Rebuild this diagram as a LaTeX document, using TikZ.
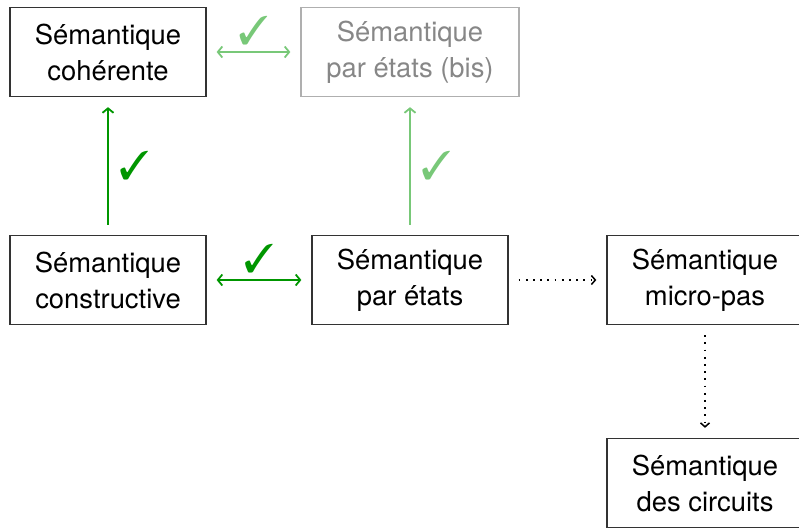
\documentclass[tikz,border=0pt]{standalone}
\usepackage{fontspec}
\setmainfont{TeX Gyre Heros}
\usepackage{pifont}
\usetikzlibrary{arrows.meta}
\definecolor{okgreen}{RGB}{0,150,0}
\definecolor{softgreen}{RGB}{120,200,120}
\definecolor{softgrey}{RGB}{135,135,135}
\definecolor{softframe}{RGB}{175,175,175}
\tikzset{
  sem/.style={draw=black!80, line width=1.3pt, minimum width=196pt, minimum height=89pt,
    align=center, inner sep=0pt, font=\fontsize{27.4}{36}\selectfont},
  faded/.style={sem, draw=softframe, text=softgrey, minimum width=218pt},
  proved/.style={okgreen, line width=2pt, shorten <=10pt, shorten >=10pt},
  soft/.style={softgreen, line width=2pt, shorten <=10pt, shorten >=10pt},
  planned/.style={black, line width=1.8pt, dash pattern=on 1.8pt off 5.4pt,
    -{Straight Barb[length=4pt, width=9pt, line width=1.5pt]}, shorten <=10pt, shorten >=10pt},
  tick/.style={font=\fontsize{40}{40}\selectfont, inner sep=0pt}
}
\begin{document}
\begin{tikzpicture}[x=1pt,y=-1pt, >={Straight Barb[length=4.5pt, width=11pt, line width=1.8pt]}]
\useasboundingbox (0,0) rectangle (799,528);
\node[sem]   (coh)  at (108,52)  {Sémantique\\cohérente};
\node[faded] (bis)  at (410,52)  {Sémantique\\par états (bis)};
\node[sem]   (cons) at (108,280) {Sémantique\\constructive};
\node[sem]   (etat) at (410,280) {Sémantique\\par états};
\node[sem]   (micro) at (705,280) {Sémantique\\micro-pas};
\node[sem]   (circ) at (705,483) {Sémantique\\des circuits};

\draw[proved, ->]  (cons) -- (coh)   node[midway, right=10pt, tick, okgreen] {\ding{51}};
\draw[soft, ->]    (etat) -- (bis)   node[midway, right=10pt, tick, softgreen] {\ding{51}};
\draw[proved, <->] (cons) -- (etat)  node[midway, above=6pt, tick, okgreen] {\ding{51}};
\draw[soft, <->]   (coh)  -- (bis)   node[midway, above=6pt, tick, softgreen] {\ding{51}};
\draw[planned] (etat)  -- (micro);
\draw[planned] (micro) -- (circ);
\end{tikzpicture}
\end{document}
